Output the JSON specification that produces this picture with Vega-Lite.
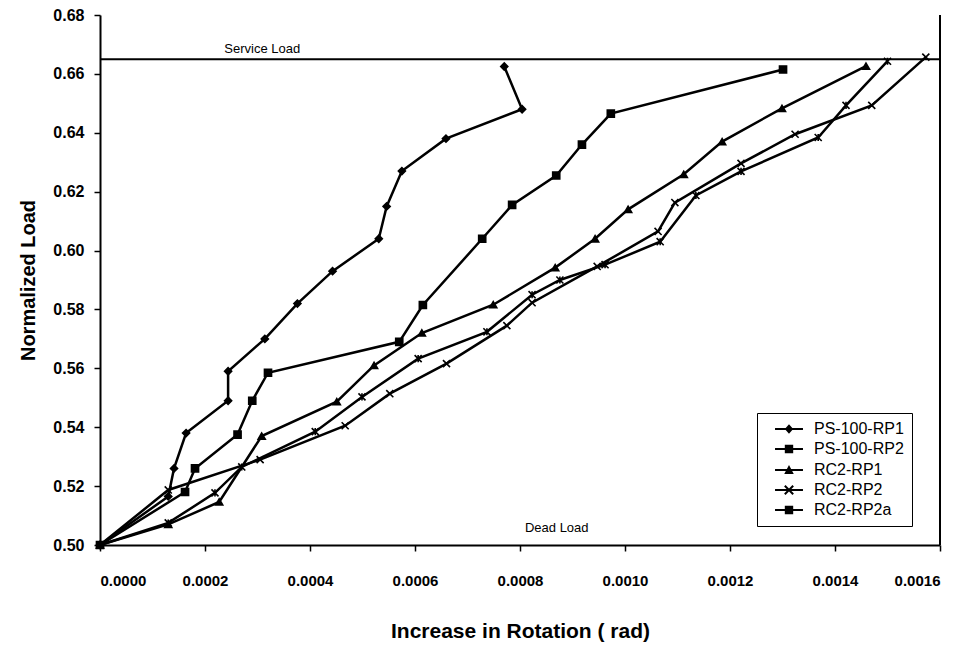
{
  "$schema": "https://vega.github.io/schema/vega-lite/v6.json",
  "autosize": {"type": "none"},
  "width": 840,
  "height": 530,
  "padding": {"left": 100, "top": 15, "right": 38, "bottom": 107},
  "background": "white",
  "config": {
    "view": {"stroke": null},
    "font": "Liberation Sans",
    "axis": {"grid": false, "domainColor": "black", "domainWidth": 2, "tickColor": "black", "tickWidth": 1.5, "labelColor": "black", "titleColor": "black", "labelFont": "Liberation Sans", "titleFont": "Liberation Sans", "labelFontWeight": "bold", "titleFontWeight": "bold"}
  },
  "datasets": {
    "curves": [
      {"series": "PS-100-RP1", "i": 0, "rot": 0, "load": 0.5},
      {"series": "PS-100-RP1", "i": 1, "rot": 0.00013, "load": 0.5165},
      {"series": "PS-100-RP1", "i": 2, "rot": 0.000141, "load": 0.526},
      {"series": "PS-100-RP1", "i": 3, "rot": 0.000164, "load": 0.538},
      {"series": "PS-100-RP1", "i": 4, "rot": 0.000244, "load": 0.549},
      {"series": "PS-100-RP1", "i": 5, "rot": 0.000244, "load": 0.559},
      {"series": "PS-100-RP1", "i": 6, "rot": 0.000314, "load": 0.57},
      {"series": "PS-100-RP1", "i": 7, "rot": 0.000376, "load": 0.582},
      {"series": "PS-100-RP1", "i": 8, "rot": 0.000443, "load": 0.593},
      {"series": "PS-100-RP1", "i": 9, "rot": 0.000531, "load": 0.604},
      {"series": "PS-100-RP1", "i": 10, "rot": 0.000546, "load": 0.615},
      {"series": "PS-100-RP1", "i": 11, "rot": 0.000575, "load": 0.627},
      {"series": "PS-100-RP1", "i": 12, "rot": 0.000659, "load": 0.638},
      {"series": "PS-100-RP1", "i": 13, "rot": 0.000804, "load": 0.648},
      {"series": "PS-100-RP1", "i": 14, "rot": 0.00077, "load": 0.6625},

      {"series": "PS-100-RP2", "i": 0, "rot": 0, "load": 0.5},
      {"series": "PS-100-RP2", "i": 1, "rot": 0.000162, "load": 0.518},
      {"series": "PS-100-RP2", "i": 2, "rot": 0.000181, "load": 0.526},
      {"series": "PS-100-RP2", "i": 3, "rot": 0.000262, "load": 0.5375},
      {"series": "PS-100-RP2", "i": 4, "rot": 0.00029, "load": 0.549},
      {"series": "PS-100-RP2", "i": 5, "rot": 0.00032, "load": 0.5585},
      {"series": "PS-100-RP2", "i": 6, "rot": 0.00057, "load": 0.569},
      {"series": "PS-100-RP2", "i": 7, "rot": 0.000615, "load": 0.5815},
      {"series": "PS-100-RP2", "i": 8, "rot": 0.000728, "load": 0.604},
      {"series": "PS-100-RP2", "i": 9, "rot": 0.000785, "load": 0.6155},
      {"series": "PS-100-RP2", "i": 10, "rot": 0.000869, "load": 0.6255},
      {"series": "PS-100-RP2", "i": 11, "rot": 0.000918, "load": 0.636},
      {"series": "PS-100-RP2", "i": 12, "rot": 0.000973, "load": 0.6465},
      {"series": "PS-100-RP2", "i": 13, "rot": 0.001301, "load": 0.6615},

      {"series": "RC2-RP1", "i": 0, "rot": 0, "load": 0.5},
      {"series": "RC2-RP1", "i": 1, "rot": 0.00013, "load": 0.507},
      {"series": "RC2-RP1", "i": 2, "rot": 0.000227, "load": 0.5146},
      {"series": "RC2-RP1", "i": 3, "rot": 0.000308, "load": 0.537},
      {"series": "RC2-RP1", "i": 4, "rot": 0.000451, "load": 0.5487},
      {"series": "RC2-RP1", "i": 5, "rot": 0.000522, "load": 0.561},
      {"series": "RC2-RP1", "i": 6, "rot": 0.000613, "load": 0.572},
      {"series": "RC2-RP1", "i": 7, "rot": 0.000749, "load": 0.5816},
      {"series": "RC2-RP1", "i": 8, "rot": 0.000867, "load": 0.5942},
      {"series": "RC2-RP1", "i": 9, "rot": 0.000943, "load": 0.604},
      {"series": "RC2-RP1", "i": 10, "rot": 0.001006, "load": 0.614},
      {"series": "RC2-RP1", "i": 11, "rot": 0.001112, "load": 0.6259},
      {"series": "RC2-RP1", "i": 12, "rot": 0.001185, "load": 0.637},
      {"series": "RC2-RP1", "i": 13, "rot": 0.001299, "load": 0.6483},
      {"series": "RC2-RP1", "i": 14, "rot": 0.001459, "load": 0.6626},

      {"series": "RC2-RP2", "i": 0, "rot": 0, "load": 0.5},
      {"series": "RC2-RP2", "i": 1, "rot": 0.00013, "load": 0.5187},
      {"series": "RC2-RP2", "i": 2, "rot": 0.000305, "load": 0.529},
      {"series": "RC2-RP2", "i": 3, "rot": 0.000467, "load": 0.5405},
      {"series": "RC2-RP2", "i": 4, "rot": 0.000552, "load": 0.5514},
      {"series": "RC2-RP2", "i": 5, "rot": 0.00066, "load": 0.5616},
      {"series": "RC2-RP2", "i": 6, "rot": 0.000775, "load": 0.5745},
      {"series": "RC2-RP2", "i": 7, "rot": 0.000823, "load": 0.5823},
      {"series": "RC2-RP2", "i": 8, "rot": 0.000947, "load": 0.5946},
      {"series": "RC2-RP2", "i": 9, "rot": 0.001063, "load": 0.6065},
      {"series": "RC2-RP2", "i": 10, "rot": 0.001095, "load": 0.6163},
      {"series": "RC2-RP2", "i": 11, "rot": 0.001221, "load": 0.6296},
      {"series": "RC2-RP2", "i": 12, "rot": 0.001324, "load": 0.6395},
      {"series": "RC2-RP2", "i": 13, "rot": 0.00147, "load": 0.6493},
      {"series": "RC2-RP2", "i": 14, "rot": 0.001573, "load": 0.6657},

      {"series": "RC2-RP2a", "i": 0, "rot": 0, "load": 0.5},
      {"series": "RC2-RP2a", "i": 1, "rot": 0.00013, "load": 0.5075},
      {"series": "RC2-RP2a", "i": 2, "rot": 0.000219, "load": 0.5177},
      {"series": "RC2-RP2a", "i": 3, "rot": 0.00027, "load": 0.5265},
      {"series": "RC2-RP2a", "i": 4, "rot": 0.00041, "load": 0.5385},
      {"series": "RC2-RP2a", "i": 5, "rot": 0.000499, "load": 0.5503},
      {"series": "RC2-RP2a", "i": 6, "rot": 0.000606, "load": 0.5633},
      {"series": "RC2-RP2a", "i": 7, "rot": 0.000737, "load": 0.5724},
      {"series": "RC2-RP2a", "i": 8, "rot": 0.000823, "load": 0.585},
      {"series": "RC2-RP2a", "i": 9, "rot": 0.000876, "load": 0.59},
      {"series": "RC2-RP2a", "i": 10, "rot": 0.000962, "load": 0.5952},
      {"series": "RC2-RP2a", "i": 11, "rot": 0.001067, "load": 0.603},
      {"series": "RC2-RP2a", "i": 12, "rot": 0.001135, "load": 0.6187},
      {"series": "RC2-RP2a", "i": 13, "rot": 0.001221, "load": 0.6269},
      {"series": "RC2-RP2a", "i": 14, "rot": 0.001368, "load": 0.6384},
      {"series": "RC2-RP2a", "i": 15, "rot": 0.001421, "load": 0.6493},
      {"series": "RC2-RP2a", "i": 16, "rot": 0.0015, "load": 0.6643}
    ],
    "notes": [
      {"rot": 0.000309, "load": 0.6684, "text": "Service Load"},
      {"rot": 0.00087, "load": 0.5058, "text": "Dead Load"}
    ],
    "refs": [
      {"rot": 0, "rot2": 0.0016, "load": 0.665, "load2": 0.665},
      {"rot": 0.0016, "rot2": 0.0016, "load": 0.5, "load2": 0.68}
    ]
  },
  "encoding": {
    "x": {"field": "rot", "type": "quantitative", "scale": {"domain": [0, 0.0016], "nice": false, "zero": false},
      "axis": {"title": "Increase in Rotation ( rad)", "values": [0, 0.0002, 0.0004, 0.0006, 0.0008, 0.001, 0.0012, 0.0014, 0.0016], "format": ".4f", "labelFontSize": 15, "labelPadding": 22, "tickSize": 6, "titleFontSize": 21, "titlePadding": 32}},
    "y": {"field": "load", "type": "quantitative", "scale": {"domain": [0.5, 0.68], "nice": false, "zero": false},
      "axis": {"title": "Normalized Load", "values": [0.5, 0.52, 0.54, 0.56, 0.58, 0.6, 0.62, 0.64, 0.66, 0.68], "format": ".2f", "labelFontSize": 16, "labelPadding": 10, "tickSize": 6, "titleFontSize": 20, "titlePadding": 14}}
  },
  "resolve": {"scale": {"shape": "independent"}, "legend": {"shape": "independent"}},
  "layer": [
    {
      "data": {"name": "refs"},
      "mark": {"type": "rule", "color": "black", "strokeWidth": 2},
      "encoding": {"x2": {"field": "rot2"}, "y2": {"field": "load2"}}
    },
    {
      "data": {"name": "curves"},
      "mark": {"type": "line", "strokeWidth": 2.5, "color": "black", "clip": false},
      "encoding": {
        "order": {"field": "i", "type": "quantitative"},
        "detail": {"field": "series", "type": "nominal"}
      }
    },
    {
      "data": {"name": "curves"},
      "mark": {"type": "point", "filled": true, "color": "black", "stroke": "black", "strokeWidth": 1.6, "opacity": 1, "clip": false},
      "encoding": {
        "shape": {"field": "series", "type": "nominal",
          "scale": {"domain": ["PS-100-RP1", "PS-100-RP2", "RC2-RP1", "RC2-RP2", "RC2-RP2a"], "range": ["diamond", "square", "triangle-up", "M-1,-1L1,1M-1,1L1,-1", "M-1,-1L1,1M-1,1L1,-1M0,-1L0,1"]},
          "legend": null},
        "size": {"value": 50}
      }
    },
    {
      "data": {"name": "curves"},
      "transform": [{"filter": "datum.i < 0"}],
      "mark": {"type": "point", "filled": true, "color": "black", "opacity": 1, "clip": false},
      "encoding": {
        "shape": {"field": "series", "type": "nominal",
          "scale": {"domain": ["PS-100-RP1", "PS-100-RP2", "RC2-RP1", "RC2-RP2", "RC2-RP2a"], "range": [
            "M-2.5,-0.18L2.5,-0.18L2.5,0.18L-2.5,0.18Z M0,-0.85L0.75,0L0,0.85L-0.75,0Z",
            "M-2.5,-0.18L2.5,-0.18L2.5,0.18L-2.5,0.18Z M-0.75,-0.75L0.75,-0.75L0.75,0.75L-0.75,0.75Z",
            "M-2.5,-0.18L2.5,-0.18L2.5,0.18L-2.5,0.18Z M0,-0.9L0.85,0.7L-0.85,0.7Z",
            "M-2.5,-0.18L2.5,-0.18L2.5,0.18L-2.5,0.18Z M-0.623,-0.877L0.877,0.623L0.623,0.877L-0.877,-0.623Z M-0.623,0.877L-0.877,0.623L0.623,-0.877L0.877,-0.623Z",
            "M-2.5,-0.18L2.5,-0.18L2.5,0.18L-2.5,0.18Z M-0.75,-0.75L0.75,-0.75L0.75,0.75L-0.75,0.75Z"]},
          "legend": {
            "title": null, "orient": "none", "legendX": 657, "legendY": 398,
            "strokeColor": "black", "fillColor": "white", "padding": 8,
            "labelFontSize": 16, "labelFont": "Liberation Sans", "labelColor": "black",
            "symbolSize": 125, "symbolFillColor": "black", "symbolOpacity": 1,
            "symbolOffset": 16, "rowPadding": 4, "labelOffset": 17, "offset": 0
          }}
      }
    },
    {
      "data": {"name": "notes"},
      "mark": {"type": "text", "fontSize": 13, "font": "Liberation Sans", "color": "black", "baseline": "middle", "align": "center"},
      "encoding": {"text": {"field": "text", "type": "nominal"}}
    }
  ]
}
